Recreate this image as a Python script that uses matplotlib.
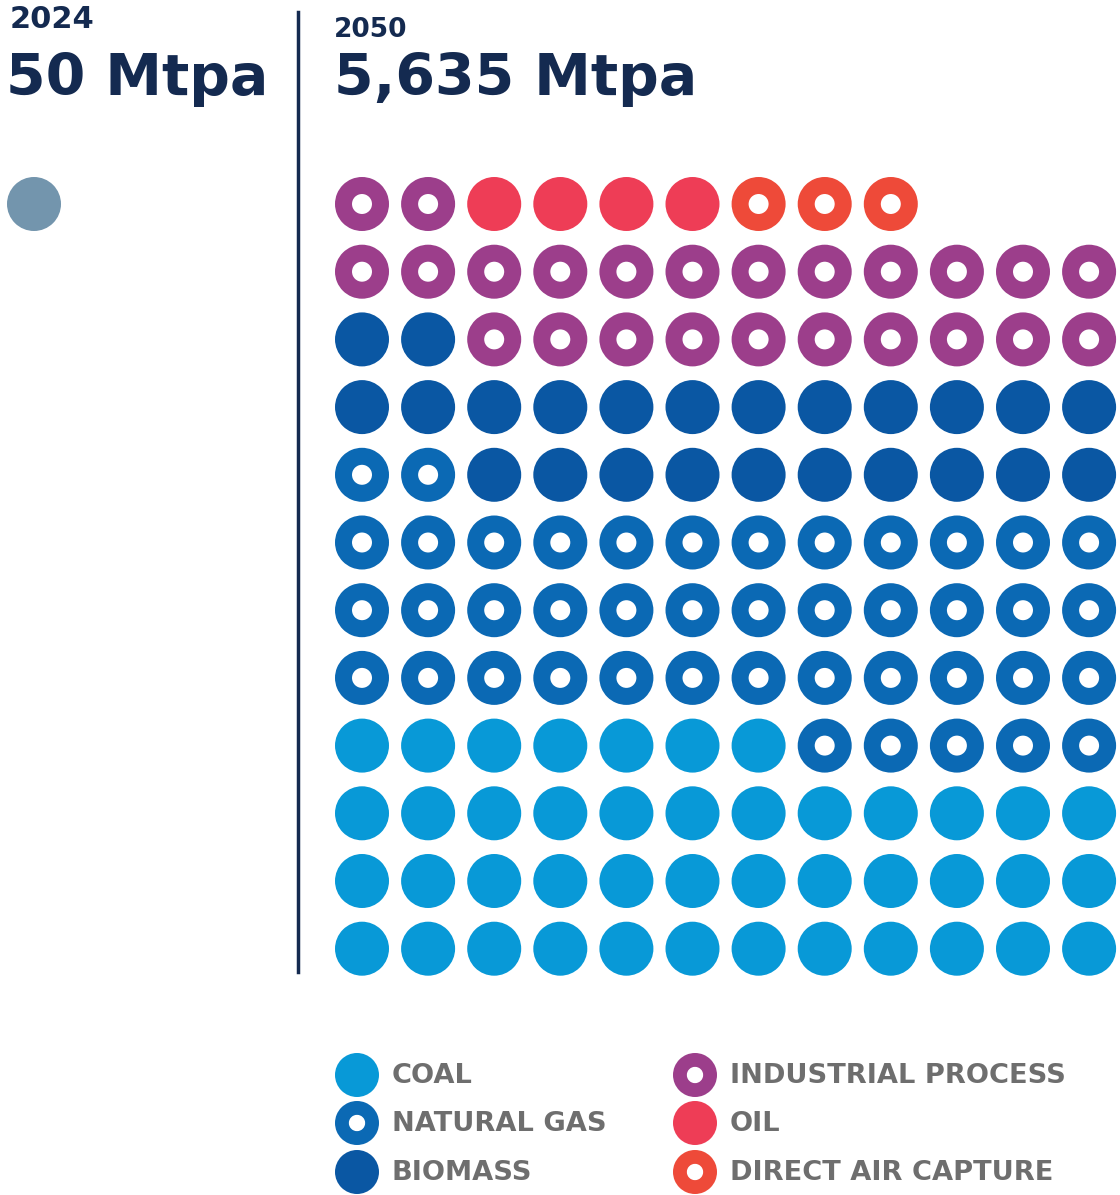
import matplotlib
matplotlib.use('Agg')
import matplotlib.pyplot as plt
from matplotlib.patches import Circle, Wedge

# 2050 capture by source, one dot = ~40 Mtpa
categories = ['COAL', 'NATURAL GAS', 'BIOMASS', 'INDUSTRIAL PROCESS', 'OIL', 'DIRECT AIR CAPTURE']
dots = [43, 43, 24, 24, 4, 3]
hollow = [False, True, False, True, False, True]
colors = ['#0899d7', '#0b69b4', '#0a57a3', '#9c3e8b', '#ee3d56', '#ee4a39']

year_left, total_left = '2024', '50 Mtpa'
year_right, total_right = '2050', '5,635 Mtpa'

navy = '#142a50'
grey_txt = '#6e6e6e'
head_font = 'DejaVu Sans'

fig = plt.figure(figsize=(11.2, 11.95), dpi=100)
ax = fig.add_axes([0, 0, 1, 1])
ax.set_xlim(0, 1120)
ax.set_ylim(1195, 0)
ax.set_aspect('equal')
ax.axis('off')


def dot(x, y, r, col, ring):
    if ring:
        ax.add_patch(Wedge((x, y), r, 0, 360, width=r * 0.63, color=col, lw=0))
    else:
        ax.add_patch(Circle((x, y), r, color=col, lw=0))


# headings
ax.text(10, 28, year_left, fontsize=22, fontweight='heavy', color=navy, family=head_font)
ax.text(6, 95, total_left, fontsize=41, fontweight='bold', color=navy, family=head_font)
ax.text(334, 37, year_right, fontsize=19, fontweight='heavy', color=navy, family=head_font)
ax.text(334, 95, total_right, fontsize=41, fontweight='bold', color=navy, family=head_font)

# divider
ax.plot([298, 298], [12, 972], color=navy, lw=2.5)

# 2024 single dot
dot(34, 204, 27, '#7395ad', False)

# 2050 grid, filled from the bottom-left upward
ncol, nrow = 12, 12
x0, dx = 362, 66.1
ytop, dy = 204, 67.7
k = 0
for cat, n, h, c in zip(categories, dots, hollow, colors):
    for _ in range(n):
        row = nrow - 1 - k // ncol
        col = k % ncol
        dot(x0 + col * dx, ytop + row * dy, 27, c, h)
        k += 1

# legend
lx = [357, 695]
ly = [1075, 1123, 1172]
for i, (cat, h, c) in enumerate(zip(categories, hollow, colors)):
    cx = lx[i // 3]
    cy = ly[i % 3]
    dot(cx, cy, 22, c, h)
    ax.text(cx + 35, cy + 1, cat, fontsize=19.6, fontweight='bold', color=grey_txt,
            family=head_font, va='center')

fig.savefig('out.png', dpi=100, facecolor='white')
